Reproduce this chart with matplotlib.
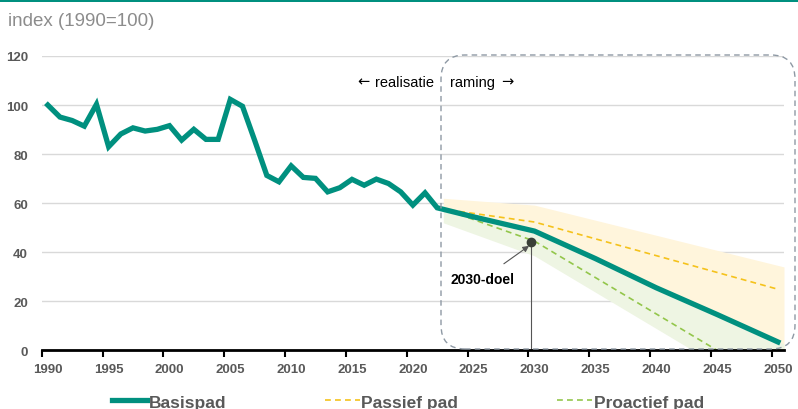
import matplotlib.pyplot as plt
from matplotlib.patches import FancyBboxPatch, Rectangle
from matplotlib.ticker import FixedLocator

# Basispad: realisatie + raming
jaren = list(range(1990, 2023)) + [2025, 2030, 2035, 2040, 2045, 2050]
basispad = [100, 95.1, 93.7, 91.4, 100.3, 83, 88.2, 90.7, 89.4, 90.1,
            91.6, 85.7, 90.1, 86, 86, 102.3, 99.5, 85.6, 71.3, 68.7,
            75.2, 70.5, 70.1, 64.6, 66.3, 69.7, 67.3, 69.8, 68, 64.6,
            59.2, 64.2, 58.1,
            54.4, 48.6, 37.4, 25.5, 14.6, 3.4]

passief_jaren = [2023, 2030, 2050]
passief = [57.2, 52.3, 24.9]

proactief_jaren = [2023, 2030, 2045]
proactief = [56.8, 44.5, 0]

# onzekerheidsbanden
geel_jaren = [2022.5, 2030, 2050.5]
geel_onder = [57.5, 48.6, 0]
geel_boven = [62, 59.2, 34]

groen_jaren = [2022.5, 2030, 2043, 2050.5]
groen_onder = [52, 38.5, 0, 0]
groen_boven = [57.5, 48.6, 18.4, 2.6]

doel_jaar = 2029.75
doel_waarde = 44.2

grens = 2022.5  # overgang realisatie / raming
tick_jaren = list(range(1990, 2051, 5))

teal = '#00907F'
geel = '#F5C21B'
groen = '#93C64B'
grijs = '#595959'
narrow = ['Liberation Sans Narrow', 'Liberation Sans', 'DejaVu Sans']
regular = ['Liberation Sans', 'DejaVu Sans']

fig = plt.figure(figsize=(7.98, 4.10), dpi=100)
ax = fig.add_axes([41.7 / 798, (410 - 351.3) / 410, (784 - 41.7) / 798, (351.3 - 57) / 410])

# balk bovenaan
fig.add_artist(Rectangle((0, 1 - 3 / 410), 1, 3 / 410, transform=fig.transFigure,
                         color=teal, lw=0))
fig.text(8 / 798, 1 - 21 / 410, 'index (1990=100)', color='#8C8C8C', fontsize=13.5,
         family=regular, va='center', ha='left')

ax.fill_between(geel_jaren, geel_onder, geel_boven, color='#FFF5DC', lw=0, zorder=1)
ax.fill_between(groen_jaren, groen_onder, groen_boven, color='#EEF5E3', lw=0, zorder=1.1)

ax.plot(passief_jaren, passief, color=geel, lw=1.2, dashes=(3.5, 2.5), zorder=3, label='Passief pad')
ax.plot(proactief_jaren, proactief, color=groen, lw=1.2, dashes=(3.5, 2.5), zorder=3, label='Proactief pad')
ax.plot(jaren, basispad, color=teal, lw=3.8, solid_joinstyle='miter', zorder=4, label='Basispad')

# 2030-doel
ax.plot([doel_jaar, doel_jaar], [0, doel_waarde], color='#555555', lw=0.8, zorder=5)
ax.plot([doel_jaar], [doel_waarde], 'o', color='#3A4038', ms=6, zorder=6)
ax.annotate('2030-doel', xy=(doel_jaar - 0.2, doel_waarde - 1.6), xytext=(2025.7, 29),
            fontsize=10, fontweight='bold', family=regular, color='black', ha='center', va='center',
            arrowprops=dict(arrowstyle='-|>', color='#555555', lw=0.8, mutation_scale=9,
                            shrinkA=7, shrinkB=0), zorder=6)

# realisatie / raming
yt = 109.6
ax.annotate('realisatie', xy=(grens, yt), xytext=(-7, 0), textcoords='offset points',
            ha='right', va='center', fontsize=10.5, family=regular)
ax.annotate('\u2190', xy=(grens, yt), xytext=(-53, 0.5), textcoords='offset points',
            ha='right', va='center', fontsize=10.5, family=['DejaVu Sans'])
ax.annotate('raming', xy=(grens, yt), xytext=(4.5, 0), textcoords='offset points',
            ha='left', va='center', fontsize=10.5, family=regular)
ax.annotate('\u2192', xy=(grens, yt), xytext=(42, 0.5), textcoords='offset points',
            ha='left', va='center', fontsize=10.5, family=['DejaVu Sans'])

# kader raming
fig.add_artist(FancyBboxPatch((4.41, 0.60), 3.54, 2.94,
                              boxstyle='round,pad=0,rounding_size=0.24',
                              transform=fig.dpi_scale_trans, fill=False,
                              ec='#8E99A4', lw=1, ls=(0, (4, 3)), zorder=10))

ax.set_xlim(1989.5, 2050.5)
ax.set_ylim(0, 120)
ax.set_yticks(range(0, 121, 20))
ax.grid(axis='y', color='#D9D9D9', lw=1)
ax.set_axisbelow(True)
ax.set_xticks(tick_jaren)
ax.xaxis.set_minor_locator(FixedLocator([j - 0.5 for j in tick_jaren]))
ax.tick_params(axis='x', which='major', length=0, pad=9)
ax.tick_params(axis='x', which='minor', length=5, width=1.5, color='black', direction='out')
ax.tick_params(axis='y', length=0, pad=10)
for lab in ax.get_xticklabels() + ax.get_yticklabels():
    lab.set_family(narrow)
    lab.set_fontweight('bold')
    lab.set_fontsize(9.5)
    lab.set_color(grijs)
for s in ['left', 'right', 'top']:
    ax.spines[s].set_visible(False)
ax.spines['bottom'].set_linewidth(2)
ax.spines['bottom'].set_zorder(7)

h, l = ax.get_legend_handles_labels()
volgorde = [2, 0, 1]
leg = fig.legend([h[i] for i in volgorde], [l[i] for i in volgorde], ncol=3, frameon=False,
                 loc='center', bbox_to_anchor=(408 / 798, 1 - 403 / 410),
                 prop={'family': narrow, 'weight': 'bold', 'size': 12.5},
                 handlelength=2.0, handletextpad=0.1, columnspacing=5.7, borderpad=0)
for t in leg.get_texts():
    t.set_color(grijs)

fig.savefig('out.png', dpi=100)
